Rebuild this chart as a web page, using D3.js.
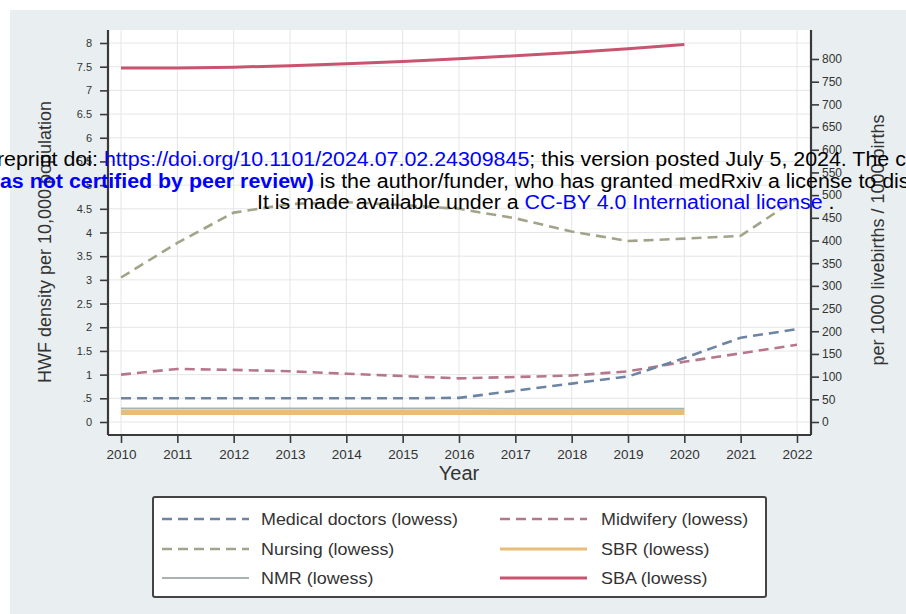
<!DOCTYPE html>
<html>
<head>
<meta charset="utf-8">
<script src="https://cdn.jsdelivr.net/npm/d3@7"></script>
<style>
  body { margin: 0; background: #fff; }
  svg { display: block; font-family: "Liberation Sans", Arial, sans-serif; }
</style>
</head>
<body>
<svg id="chart" width="906" height="614"></svg>
<script>
// ---- data ----
var years = [2010, 2011, 2012, 2013, 2014, 2015, 2016, 2017, 2018, 2019, 2020, 2021, 2022];
var yearsTo2020 = [2010, 2011, 2012, 2013, 2014, 2015, 2016, 2017, 2018, 2019, 2020];

var medicalDoctors = [0.5, 0.5, 0.5, 0.5, 0.5, 0.5, 0.51, 0.66, 0.81, 0.96, 1.35, 1.78, 1.96];
var midwifery      = [1.0, 1.12, 1.1, 1.07, 1.02, 0.97, 0.92, 0.95, 0.98, 1.07, 1.27, 1.45, 1.63];
var nursing        = [3.05, 3.78, 4.42, 4.6, 4.64, 4.58, 4.5, 4.3, 4.02, 3.82, 3.87, 3.93, 4.72];
var sba            = [7.47, 7.47, 7.49, 7.52, 7.56, 7.61, 7.67, 7.73, 7.8, 7.88, 7.97];
var sbr            = [21, 21, 21, 21, 21, 21, 21, 21, 21, 21, 21];   // right axis
var nmr            = [30, 30, 30, 30, 30, 30, 30, 29, 29, 29, 29];   // right axis

var leftTicks  = [0, 0.5, 1, 1.5, 2, 2.5, 3, 3.5, 4, 4.5, 5, 5.5, 6, 6.5, 7, 7.5, 8];
var rightTicks = [0, 50, 100, 150, 200, 250, 300, 350, 400, 450, 500, 550, 600, 650, 700, 750, 800];

var legendItems = [
  {key: "md",   label: "Medical doctors (lowess)"},
  {key: "mw",   label: "Midwifery (lowess)"},
  {key: "nu",   label: "Nursing (lowess)"},
  {key: "sbr",  label: "SBR (lowess)"},
  {key: "nmr",  label: "NMR (lowess)"},
  {key: "sba",  label: "SBA (lowess)"}
];

var styles = {
  md:  {color: "#6d84a3", width: 2.6, dash: "10,6"},
  mw:  {color: "#b5788a", width: 2.6, dash: "10,6"},
  nu:  {color: "#a3a38a", width: 2.6, dash: "10,6"},
  sbr: {color: "#e8bd7a", width: 5,   dash: null},
  nmr: {color: "#a9b3ae", width: 2,   dash: null},
  sba: {color: "#c8546f", width: 3,   dash: null}
};

// ---- layout ----
var plot = {left: 108, right: 811, top: 30, bottom: 435};
var stretch = 1.07;   // the source image is a little wider than tall

var svg = d3.select("#chart");

svg.append("rect")
    .attr("x", 10).attr("y", 10)
    .attr("width", 896).attr("height", 604)
    .attr("fill", "#e9eff1");

svg.append("rect")
    .attr("x", plot.left).attr("y", plot.top)
    .attr("width", plot.right - plot.left).attr("height", plot.bottom - plot.top)
    .attr("fill", "#fff");

var x = d3.scaleLinear().domain([2010, 2022]).range([121, 797]);
var yL = d3.scaleLinear().domain([0, 8]).range([422, 43]);
var yR = d3.scaleLinear().domain([0, 800]).range([422, 59]);

// grid
var grid = svg.append("g").attr("stroke", "#e4e6e6").attr("stroke-width", 1);
grid.selectAll("line.v").data(years).enter().append("line")
    .attr("x1", d => x(d)).attr("x2", d => x(d))
    .attr("y1", plot.top).attr("y2", plot.bottom);
grid.selectAll("line.h").data(leftTicks).enter().append("line")
    .attr("x1", plot.left).attr("x2", plot.right)
    .attr("y1", d => yL(d)).attr("y2", d => yL(d));

// series
function drawLine(xs, vals, scale, st) {
  var line = d3.line()
      .x((d, i) => x(xs[i]))
      .y(d => scale(d));
  svg.append("path")
      .datum(vals)
      .attr("d", line)
      .attr("fill", "none")
      .attr("stroke", st.color)
      .attr("stroke-width", st.width)
      .attr("stroke-dasharray", st.dash);
}
drawLine(yearsTo2020, sbr, yR, styles.sbr);
drawLine(yearsTo2020, nmr, yR, styles.nmr);
drawLine(years, nursing, yL, styles.nu);
drawLine(years, midwifery, yL, styles.mw);
drawLine(years, medicalDoctors, yL, styles.md);
drawLine(yearsTo2020, sba, yL, styles.sba);

// axes
var fmtL = function(d) {
  var s = String(d);
  return s.indexOf("0.") === 0 ? s.slice(1) : s;
};

var axL = svg.append("g")
    .attr("transform", "translate(" + plot.left + ",0)")
    .call(d3.axisLeft(yL).tickValues(leftTicks).tickFormat(fmtL).tickSize(8).tickPadding(8));
var axR = svg.append("g")
    .attr("transform", "translate(" + plot.right + ",0)")
    .call(d3.axisRight(yR).tickValues(rightTicks).tickSize(8).tickPadding(3));
var axB = svg.append("g")
    .attr("transform", "translate(0," + plot.bottom + ")")
    .call(d3.axisBottom(x).tickValues(years).tickFormat(d3.format("d")).tickSize(8).tickPadding(6));

[axL, axR, axB].forEach(function(g) {
  g.select(".domain").remove();
  g.selectAll(".tick line").attr("stroke", "#3a3a3a").attr("stroke-width", 1.6);
  g.selectAll(".tick text").attr("fill", "#333").attr("font-family", "Liberation Sans, Arial, sans-serif");
});
axL.selectAll(".tick text").attr("font-size", 11);
axR.selectAll(".tick text").attr("font-size", 12);
axB.selectAll(".tick text").attr("font-size", 13.5);

// axis lines
var axisLines = svg.append("g").attr("stroke", "#3a3a3a").attr("stroke-width", 2.2);
axisLines.append("line").attr("x1", plot.left).attr("x2", plot.left).attr("y1", plot.top).attr("y2", plot.bottom);
axisLines.append("line").attr("x1", plot.right).attr("x2", plot.right).attr("y1", plot.top).attr("y2", plot.bottom);
axisLines.append("line").attr("x1", plot.left).attr("x2", plot.right).attr("y1", plot.bottom).attr("y2", plot.bottom);

// axis titles
svg.append("text")
    .attr("transform", "translate(51,242) rotate(-90)")
    .attr("text-anchor", "middle")
    .attr("font-size", 18)
    .attr("fill", "#333")
    .text("HWF density per 10,000 population");
svg.append("text")
    .attr("transform", "translate(884,240) rotate(-90)")
    .attr("text-anchor", "middle")
    .attr("font-size", 18)
    .attr("fill", "#333")
    .text("per 1000 livebirths / 1000 births");
svg.append("text")
    .attr("x", 459).attr("y", 480)
    .attr("text-anchor", "middle")
    .attr("font-size", 20)
    .attr("fill", "#333")
    .text("Year");

// legend
var lg = svg.append("g");
lg.append("rect")
    .attr("x", 153).attr("y", 497)
    .attr("width", 613).attr("height", 100)
    .attr("rx", 2)
    .attr("fill", "#fff")
    .attr("stroke", "#444")
    .attr("stroke-width", 2);

var cols = [{lx: 162, tx: 261}, {lx: 500, tx: 601}];
var rows = [519, 549, 578];
legendItems.forEach(function(it, i) {
  var c = cols[i % 2], r = rows[Math.floor(i / 2)], st = styles[it.key];
  lg.append("line")
      .attr("x1", c.lx).attr("x2", c.lx + 87)
      .attr("y1", r).attr("y2", r)
      .attr("stroke", st.color)
      .attr("stroke-width", Math.min(st.width, 3))
      .attr("stroke-dasharray", st.dash);
  lg.append("text")
      .attr("transform", "translate(" + c.tx + "," + (r + 5.5) + ") scale(1.12,1)")
      .attr("font-size", 16)
      .attr("fill", "#333")
      .text(it.label);
});

// medRxiv stamp overlay
var blue = "#0000ff";
function textWidth(str, size, weight) {
  var t = svg.append("text")
      .attr("font-size", size)
      .attr("font-weight", weight || "normal")
      .style("white-space", "pre")
      .text(str);
  var w = t.node().getComputedTextLength();
  t.remove();
  return w;
}
var fs = 20;
var stamp = svg.append("g").attr("transform", "scale(" + stretch + ",1)");

var l1 = stamp.append("text").attr("y", 166).attr("font-size", fs).attr("fill", "#000")
    .attr("x", 104 / stretch - textWidth("medRxiv preprint doi: ", fs));
l1.append("tspan").text("medRxiv preprint doi: ");
l1.append("tspan").attr("fill", blue).text("https://doi.org/10.1101/2024.07.02.24309845");
l1.append("tspan").text("; this version posted July 5, 2024. The copyright holder for this preprint");

var l2 = stamp.append("text").attr("y", 188).attr("font-size", fs).attr("fill", "#000")
    .attr("x", -textWidth("(which w", fs, "bold"));
l2.append("tspan").attr("fill", blue).attr("font-weight", "bold").text("(which was not certified by peer review)");
l2.append("tspan").text(" is the author/funder, who has granted medRxiv a license to display the preprint in perpetuity.");

var l3 = stamp.append("text").attr("x", 257 / stretch).attr("y", 209).attr("font-size", fs).attr("fill", "#000");
l3.append("tspan").text("It is made available under a ");
l3.append("tspan").attr("fill", blue).text("CC-BY 4.0 International license");
l3.append("tspan").text(" .");
</script>
</body>
</html>
